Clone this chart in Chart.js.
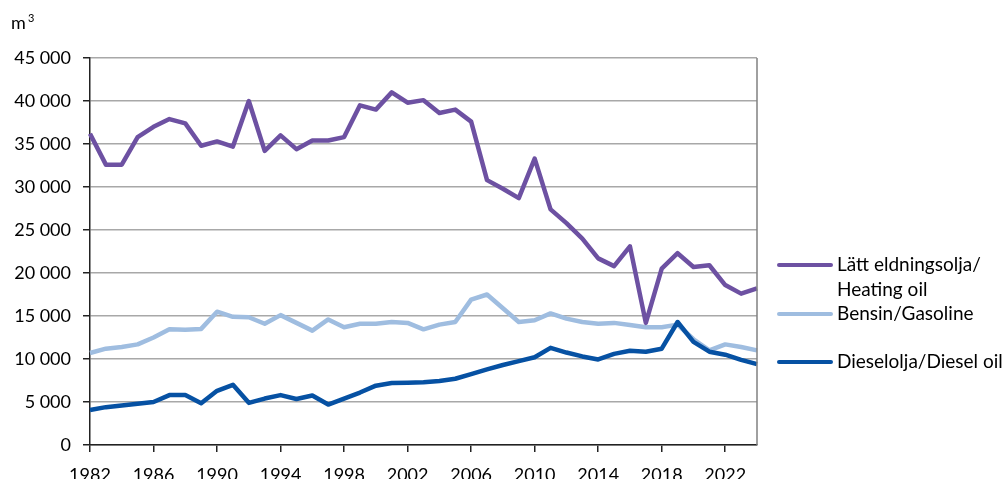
<!DOCTYPE html>
<html>
<head>
<meta charset="utf-8">
<script src="https://cdn.jsdelivr.net/npm/chart.js@4"></script>
<style>
  html, body { margin: 0; padding: 0; background: #fff; overflow: hidden; }
  #wrap { width: 1008px; height: 500px; position: relative; }
</style>
</head>
<body>
<div id="wrap"><canvas id="chart"></canvas></div>
<script>
// år 1982-2024
const years = [];
for (let y = 1982; y <= 2024; y++) years.push(String(y));

// Lätt eldningsolja / Heating oil (m3)
const heatingOil = [
  36200, 32600, 32600, 35800, 37000, 37900, 37400, 34800, 35300, 34700,
  40000, 34200, 36000, 34400, 35400, 35400, 35800, 39500, 39000, 41000,
  39800, 40100, 38600, 39000, 37600, 30800, 29800, 28700, 33300, 27400,
  25800, 24000, 21700, 20800, 23100, 14200, 20500, 22300, 20700, 20900,
  18600, 17600, 18200
];

// Bensin / Gasoline
const gasoline = [
  10700, 11200, 11400, 11700, 12500, 13450, 13400, 13500, 15500, 14900,
  14850, 14100, 15100, 14200, 13300, 14600, 13700, 14100, 14100, 14300,
  14200, 13450, 14000, 14300, 16900, 17500, 15900, 14300, 14500, 15300,
  14700, 14300, 14100, 14200, 13950, 13700, 13700, 14000, 12300, 11000,
  11700, 11400, 11000
];

// Dieselolja / Diesel oil
const dieselOil = [
  4070, 4400, 4600, 4800, 5000, 5800, 5800, 4850, 6300, 7000,
  4900, 5400, 5800, 5350, 5750, 4700, 5400, 6100, 6900, 7200,
  7250, 7300, 7450, 7700, 8250, 8800, 9300, 9750, 10200, 11300,
  10750, 10300, 9950, 10600, 10950, 10850, 11200, 14300, 12000, 10850,
  10500, 9900, 9400
];

const seriesNames = [
  ["Lätt eldningsolja/", "Heating oil"],
  ["Bensin/Gasoline"],
  ["Dieselolja/Diesel oil"]
];
const legendY = [265, 314, 362];

const FONT = "Lato, 'DejaVu Sans', sans-serif";

function fmt(v) {
  return String(v).replace(/\B(?=(\d{3})+(?!\d))/g, " ");
}

// ram till höger, enhet och legend
const extras = {
  id: "extras",
  afterDraw(chart) {
    const ctx = chart.ctx;
    const a = chart.chartArea;
    ctx.save();
    ctx.strokeStyle = "#808080";
    ctx.lineWidth = 1.5;
    ctx.beginPath();
    ctx.moveTo(a.right, a.top);
    ctx.lineTo(a.right, a.bottom);
    ctx.stroke();

    ctx.fillStyle = "#000";
    ctx.textBaseline = "alphabetic";
    ctx.font = "18px " + FONT;
    ctx.fillText("m", 11, 29);
    ctx.font = "11px " + FONT;
    ctx.fillText("3", 28, 22);

    chart.data.datasets.forEach((ds, i) => {
      const y = legendY[i];
      ctx.strokeStyle = ds.borderColor;
      ctx.lineWidth = 4;
      ctx.lineCap = "round";
      ctx.beginPath();
      ctx.moveTo(779, y);
      ctx.lineTo(831, y);
      ctx.stroke();
      ctx.fillStyle = "#000";
      ctx.font = "19px " + FONT;
      ctx.textBaseline = "middle";
      seriesNames[i].forEach((t, k) => ctx.fillText(t, 837, y + k * 25));
    });
    ctx.restore();
  }
};

new Chart(document.getElementById("chart"), {
  type: "line",
  data: {
    labels: years,
    datasets: [
      { label: seriesNames[0].join(" "), data: heatingOil, borderColor: "#6d51a2", order: 0 },
      { label: seriesNames[1][0], data: gasoline, borderColor: "#9fbde0", order: 2 },
      { label: seriesNames[2][0], data: dieselOil, borderColor: "#0651a3", order: 1 }
    ]
  },
  options: {
    responsive: true,
    maintainAspectRatio: false,
    animation: false,
    layout: { padding: { top: 58, right: 251, left: 0, bottom: 0 } },
    elements: {
      point: { radius: 0 },
      line: { borderWidth: 4.5, tension: 0, borderJoinStyle: "round" }
    },
    plugins: { legend: { display: false }, tooltip: { enabled: false } },
    scales: {
      x: {
        offset: false,
        afterFit(s) { s.height = 55; },
        afterBuildTicks(s) { s.ticks = s.ticks.filter(t => t.value % 4 === 0); },
        grid: { drawOnChartArea: false, drawTicks: true, tickLength: 7, tickColor: "#222", lineWidth: 1.5 },
        border: { color: "#222", width: 1.5 },
        ticks: {
          autoSkip: false, maxRotation: 0, padding: 12, color: "#000",
          font: { family: FONT, size: 18 },
          callback(v) { return years[v]; }
        }
      },
      y: {
        min: 0, max: 45000,
        afterFit(s) { s.width = 90; },
        grid: { color: "#a8a8a8", lineWidth: 1.5, tickLength: 7, tickColor: "#222" },
        border: { color: "#222", width: 1.5 },
        ticks: {
          stepSize: 5000, padding: 12, color: "#000",
          font: { family: FONT, size: 18 },
          callback: v => fmt(v)
        }
      }
    }
  },
  plugins: [extras]
});
</script>
</body>
</html>
